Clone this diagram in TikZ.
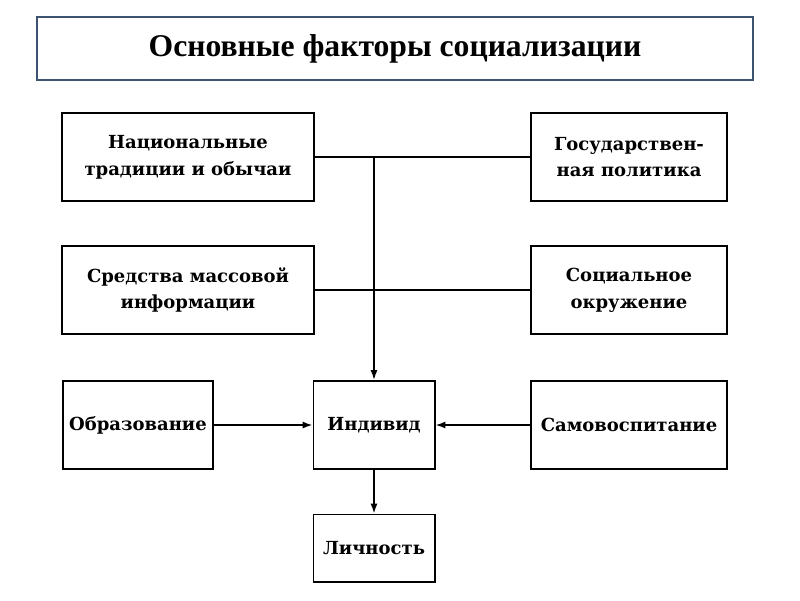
\documentclass[tikz,border=0pt]{standalone}
\usepackage{fontspec}
\setmainfont{DejaVu Serif}
\newfontfamily\titlefont{Liberation Serif}
\usetikzlibrary{arrows.meta}
\definecolor{framegray}{RGB}{62,83,112}

\tikzset{
  factor/.style={draw, line width=1.4pt, fill=white, align=center, inner sep=0pt,
    minimum height=2.2cm, font=\bfseries\fontsize{12.8}{19}\selectfont},
  link/.style={line width=1.2pt},
  arrowlink/.style={link, -{Latex[length=7pt, width=5pt]}}
}

\begin{document}
\begin{tikzpicture}[x=0.025cm, y=-0.025cm]
                \useasboundingbox (0,0) rectangle (800,600);
                % Title
                \draw[framegray, line width=1.6pt] (37,17) rectangle (753,80);
                \node (title) at (395,49) {\titlefont\bfseries\fontsize{22.5}{26}\selectfont Основные факторы социализации};

                % Factors
                \node[factor, minimum width=6.275cm] (trad) at (188,157) {Национальные\\традиции и обычаи};
                \node[factor, minimum width=4.9cm] (gos) at (629,157) {Государствен-\\ная политика};
                \node[factor, minimum width=6.275cm] (smi) at (188,290) {Средства массовой\\информации};
                \node[factor, minimum width=4.9cm] (okr) at (629,290) {Социальное\\окружение};
                \node[factor, minimum width=3.75cm] (obr) at (138,425) {Образование};
                \node[factor, minimum width=3.025cm] (ind) at (374,425) {Индивид};
                \node[factor, minimum width=4.9cm] (samo) at (629,425) {Самовоспитание};
                \node[factor, minimum width=3.025cm, minimum height=1.675cm] (lich) at (374,548) {Личность};

                \coordinate (top) at (374,157);
                \draw[link] (trad) -- (gos);
                \draw[link] (smi) -- (okr);
                \draw[arrowlink] (top) -- (ind);
                \draw[arrowlink] (obr) -- (ind);
                \draw[arrowlink] (samo) -- (ind);
                \draw[arrowlink] (ind) -- (lich);
            \end{tikzpicture}
\end{document}
